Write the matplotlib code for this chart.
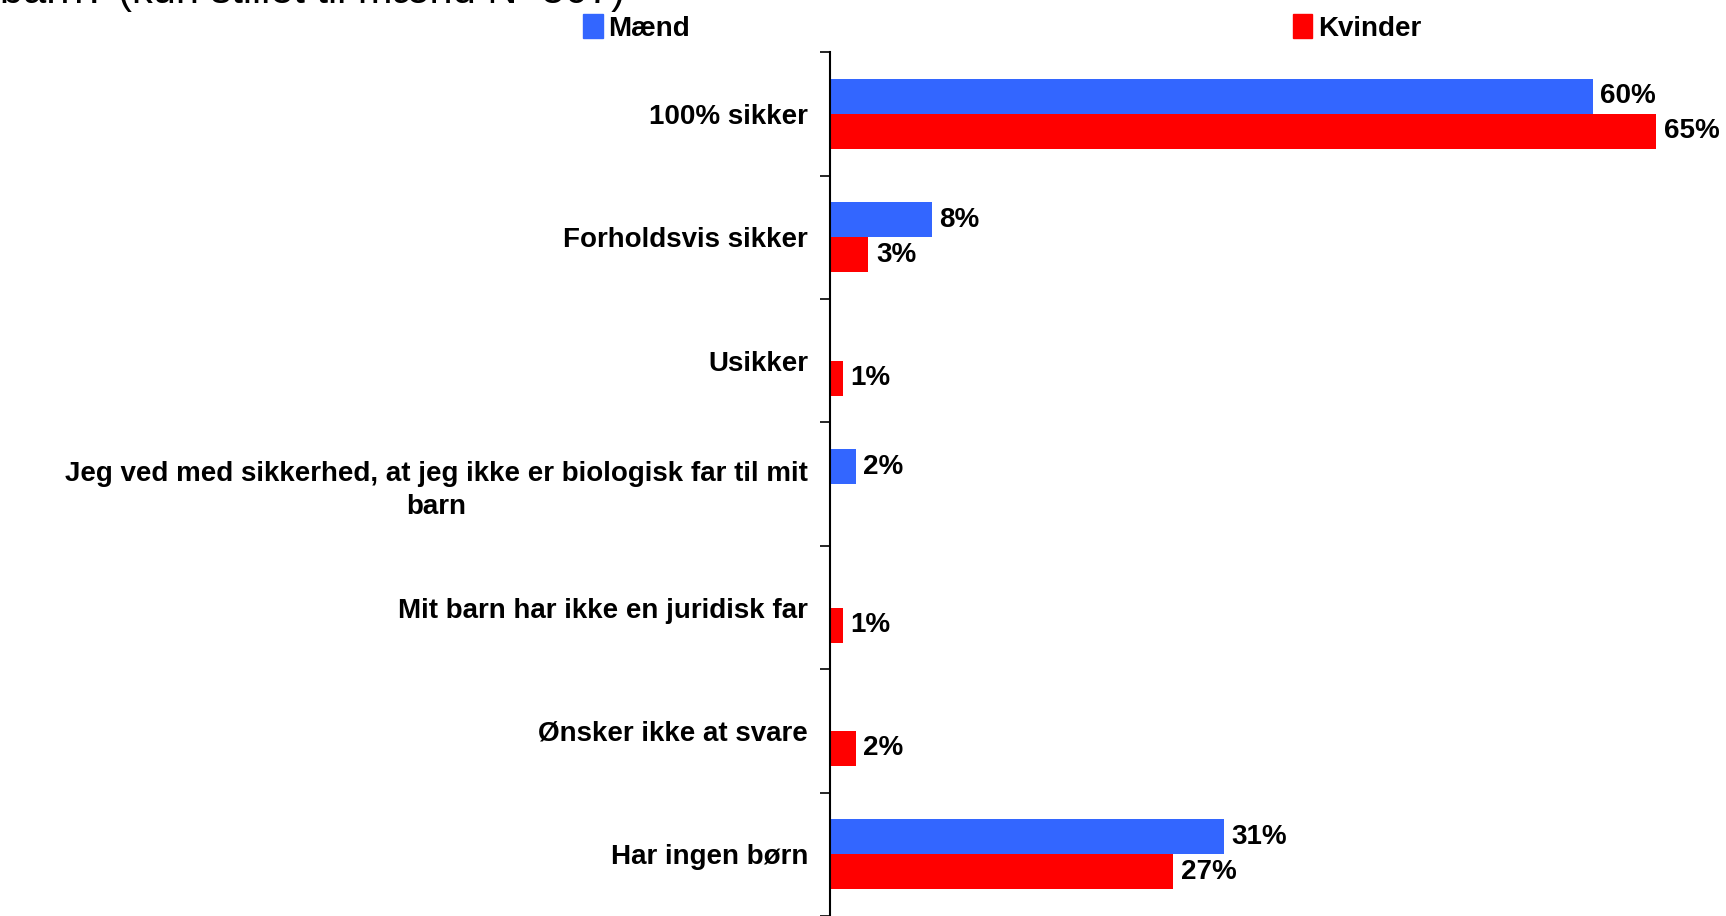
import numpy as np
import matplotlib
matplotlib.use('Agg')
import matplotlib.pyplot as plt
from matplotlib.patches import Patch

plt.rcParams['font.family'] = ['Liberation Sans', 'DejaVu Sans']

categories = ['100% sikker',
              'Forholdsvis sikker',
              'Usikker',
              'Jeg ved med sikkerhed, at jeg ikke er biologisk far til mit\nbarn',
              'Mit barn har ikke en juridisk far',
              'Ønsker ikke at svare',
              'Har ingen børn']
maend = [60, 8, np.nan, 2, np.nan, np.nan, 31]
kvinder = [65, 3, 1, np.nan, 1, 2, 27]
series = ['Mænd', 'Kvinder']
colors = ['#3366FF', '#FF0000']

fig = plt.figure(figsize=(17.26, 9.16), dpi=100)
ax = fig.add_axes([0.481, 0.0, 0.519, 0.943])

y = np.arange(len(categories))
h = 0.285
for vals, off, col in [(maend, -h / 2, colors[0]), (kvinder, h / 2, colors[1])]:
    v = np.array(vals, dtype=float)
    ax.barh(y + off, np.nan_to_num(v), height=h, color=col)
    for yi, val in zip(y, v):
        if not np.isnan(val):
            ax.text(val + 0.6, yi + off, f'{val:.0f}%', va='center', ha='left',
                    fontsize=20, fontweight='bold')

ax.set_xlim(0, 70.5)
ax.set_ylim(len(categories) - 0.5, -0.5)
ax.set_yticks(y)
ax.set_yticklabels(categories, fontsize=20, fontweight='bold',
                   multialignment='center', linespacing=1.35)
ax.set_yticks(np.arange(len(categories) + 1) - 0.5, minor=True)
ax.tick_params(axis='y', which='major', length=0, pad=16)
ax.tick_params(axis='y', which='minor', length=7, width=1.2)
ax.set_xticks([])
for s in ['top', 'right', 'bottom']:
    ax.spines[s].set_visible(False)
ax.spines['left'].set_linewidth(1.5)

handles = [Patch(color=c) for c in colors]
fig.legend(handles, series, loc='center left', bbox_to_anchor=(0.3379, 0.9694),
           ncol=2, frameon=False, prop={'weight': 'bold', 'size': 20},
           handlelength=0.7, handleheight=0.9, handletextpad=0.2, columnspacing=21.7,
           borderaxespad=0, borderpad=0)

# title is cut off at the top edge in the original too
fig.text(0.0, 0.9967, 'barn? (kun stillet til mænd N=507)', fontsize=30,
         ha='left', va='baseline')

fig.savefig('out.png', dpi=100)
